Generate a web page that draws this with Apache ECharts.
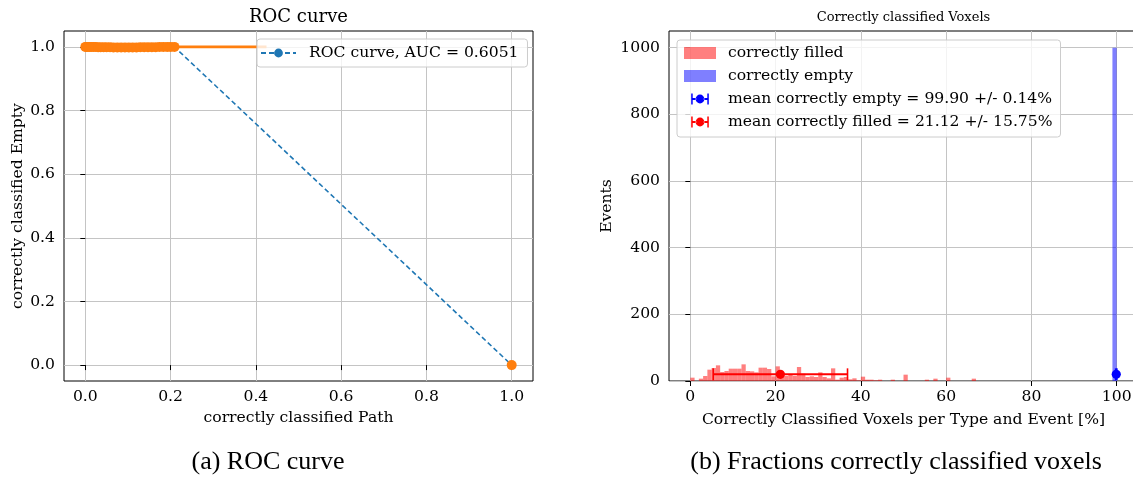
<!DOCTYPE html>
<html>
<head>
<meta charset="utf-8">
<script src="https://cdn.jsdelivr.net/npm/echarts@6/dist/echarts.min.js"></script>
<style>
  html, body { margin: 0; padding: 0; background: #ffffff; }
  #chart { width: 1133px; height: 477px; }
</style>
</head>
<body>
<div id="chart"></div>
<script>
// ---- ROC curve (left panel) ----
const rocFpr = [0.000, 0.003, 0.006, 0.010, 0.014, 0.019, 0.024, 0.030, 0.036, 0.043,
                0.050, 0.058, 0.066, 0.075, 0.084, 0.093, 0.102, 0.111, 0.120, 0.129,
                0.138, 0.147, 0.156, 0.165, 0.174, 0.183, 0.192, 0.200, 0.209, 1.000];
const rocTpr = [1.000, 1.000, 1.000, 1.000, 1.000, 1.000, 1.000, 0.999, 0.999, 0.999,
                0.999, 0.999, 0.998, 0.998, 0.998, 0.998, 0.998, 0.998, 0.998, 0.999,
                0.999, 0.999, 0.999, 0.999, 1.000, 1.000, 1.000, 1.000, 1.000, 0.000];
const flatFpr = [0.000, 0.425];
const flatTpr = [1.000, 1.000];
const rocLegend = 'ROC curve, AUC = 0.6051';
const rocTicks = [0.0, 0.2, 0.4, 0.6, 0.8, 1.0];

// ---- voxel fractions (right panel), events per 1 % bin ----
const filledCounts = [10, 0, 7, 15, 34, 39, 47, 27, 30, 37,
                      37, 37, 50, 30, 29, 26, 40, 40, 36, 14,
                      44, 22, 15, 20, 15, 42, 22, 12, 14, 12,
                      26, 12, 8, 38, 4, 10, 12, 5, 8, 2,
                      13, 4, 4, 2, 4, 0, 0, 4, 0, 0,
                      19, 0, 0, 0, 0, 4, 0, 7, 0, 0,
                      10, 0, 0, 0, 0, 0, 7];
const emptyBins = [99];
const emptyCounts = [1000];
const meanValues = [99.90, 21.12];
const meanErrors = [0.14, 15.75];
const meanLevel = 20;
const meanLabels = ['mean correctly empty = 99.90 +/- 0.14%', 'mean correctly filled = 21.12 +/- 15.75%'];
const voxelXTicks = [0, 20, 40, 60, 80, 100];
const voxelYTicks = [0, 200, 400, 600, 800, 1000];
const filledName = 'correctly filled';
const emptyName = 'correctly empty';

const SERIF = 'DejaVu Serif';
const FS = 15.6;
const gridColor = '#c4c4c4';

const filledData = filledCounts.map((c, i) => [i, i + 1, c]);
const emptyData = emptyBins.map((b, i) => [b, b + 1, emptyCounts[i]]);

function histItem(params, api) {
  const p0 = api.coord([api.value(0), api.value(2)]);
  const p1 = api.coord([api.value(1), 0]);
  return {
    type: 'rect',
    shape: { x: p0[0], y: p0[1], width: p1[0] - p0[0], height: p1[1] - p0[1] },
    style: { fill: api.visual('color') }
  };
}

function errorbarItem(params, api) {
  const m = api.value(0), e = api.value(1), y = api.value(2);
  const pl = api.coord([m - e, y]);
  const pr = api.coord([m + e, y]);
  const pc = api.coord([m, y]);
  const col = api.visual('color');
  const cap = 6;
  return {
    type: 'group',
    children: [
      { type: 'line', shape: { x1: pl[0], y1: pl[1], x2: pr[0], y2: pr[1] }, style: { stroke: col, lineWidth: 2 } },
      { type: 'line', shape: { x1: pl[0], y1: pl[1] - cap, x2: pl[0], y2: pl[1] + cap }, style: { stroke: col, lineWidth: 1.6 } },
      { type: 'line', shape: { x1: pr[0], y1: pr[1] - cap, x2: pr[0], y2: pr[1] + cap }, style: { stroke: col, lineWidth: 1.6 } },
      { type: 'circle', shape: { cx: pc[0], cy: pc[1], r: 4.6 }, style: { fill: col } }
    ]
  };
}

// legend glyph for the mean markers: bar with caps and a dot
const errIcon = 'path://M0 0M32 12' +
  'M8.5 5L12.2 5L12.2 7L8.5 7Z' +
  'M19.8 5L23.5 5L23.5 7L19.8 7Z' +
  'M7.2 0.5L8.7 0.5L8.7 11.5L7.2 11.5Z' +
  'M23.3 0.5L24.8 0.5L24.8 11.5L23.3 11.5Z' +
  'M11.6 6A4.4 4.4 0 1 0 20.4 6A4.4 4.4 0 1 0 11.6 6Z';

const axisLabelStyle = { fontFamily: SERIF, fontSize: FS, color: '#000' };
const nameStyle = { fontFamily: SERIF, fontSize: FS, color: '#000' };
const tickStyle = { show: true, length: 5, lineStyle: { color: '#000', width: 1 } };

const option = {
  animation: false,
  grid: [
    { left: 64, top: 31, width: 469, height: 350, show: true, borderColor: '#000', borderWidth: 1,
      backgroundColor: 'transparent', containLabel: false, outerBoundsMode: 'none' },
    { left: 669, top: 31, width: 469, height: 350, show: true, borderColor: '#000', borderWidth: 1,
      backgroundColor: 'transparent', containLabel: false, outerBoundsMode: 'none' }
  ],
  xAxis: [
    {
      type: 'value', gridIndex: 0, min: -0.05, max: 1.05,
      name: 'correctly classified Path', nameLocation: 'middle', nameGap: 29,
      nameTextStyle: nameStyle,
      axisLine: { show: false },
      axisTick: Object.assign({ customValues: rocTicks }, tickStyle),
      axisLabel: Object.assign({ customValues: rocTicks, margin: 8, formatter: v => v.toFixed(1) }, axisLabelStyle),
      splitLine: { show: true, lineStyle: { color: gridColor, width: 1 } }
    },
    {
      type: 'value', gridIndex: 1, min: -5, max: 105,
      name: 'Correctly Classified Voxels per Type and Event [%]', nameLocation: 'middle', nameGap: 31,
      nameTextStyle: nameStyle,
      axisLine: { show: false },
      axisTick: Object.assign({ customValues: voxelXTicks }, tickStyle),
      axisLabel: Object.assign({ customValues: voxelXTicks, margin: 8, formatter: v => String(v) }, axisLabelStyle),
      splitLine: { show: true, lineStyle: { color: gridColor, width: 1 } }
    }
  ],
  yAxis: [
    {
      type: 'value', gridIndex: 0, min: -0.05, max: 1.05,
      name: 'correctly classified Empty', nameLocation: 'middle', nameGap: 38,
      nameTextStyle: nameStyle,
      axisLine: { show: false },
      axisTick: Object.assign({ customValues: rocTicks }, tickStyle),
      axisLabel: Object.assign({ customValues: rocTicks, margin: 9, formatter: v => v.toFixed(1) }, axisLabelStyle),
      splitLine: { show: true, lineStyle: { color: gridColor, width: 1 } }
    },
    {
      type: 'value', gridIndex: 1, min: 0, max: 1050,
      name: 'Events', nameLocation: 'middle', nameGap: 54,
      nameTextStyle: nameStyle,
      axisLine: { show: false },
      axisTick: Object.assign({ customValues: voxelYTicks }, tickStyle),
      axisLabel: Object.assign({ customValues: voxelYTicks, margin: 9, formatter: v => String(v) }, axisLabelStyle),
      splitLine: { show: true, lineStyle: { color: gridColor, width: 1 } }
    }
  ],
  legend: [
    {
      data: [rocLegend],
      orient: 'vertical', left: 257, top: 39,
      itemWidth: 35, itemHeight: 11,
      padding: [5, 9, 5, 3],
      backgroundColor: 'rgba(255,255,255,0.8)',
      borderColor: '#cccccc', borderWidth: 1, borderRadius: 3,
      textStyle: { fontFamily: SERIF, fontSize: FS, color: '#000', lineHeight: 18, padding: [0, 0, 0, 8] },
      selectedMode: false
    },
    {
      data: [
        { name: filledName, icon: 'rect' },
        { name: emptyName, icon: 'rect' },
        { name: meanLabels[0], icon: errIcon },
        { name: meanLabels[1], icon: errIcon }
      ],
      orient: 'vertical', left: 677, top: 40,
      itemWidth: 32, itemHeight: 12, itemGap: 5,
      padding: [4, 8, 6, 7],
      backgroundColor: 'rgba(255,255,255,0.8)',
      borderColor: '#cccccc', borderWidth: 1, borderRadius: 3,
      textStyle: { fontFamily: SERIF, fontSize: FS, color: '#000', lineHeight: 18, padding: [0, 0, 0, 7] },
      selectedMode: false
    }
  ],
  graphic: [
    { type: 'text', x: 298.5, y: 17, style: { text: 'ROC curve', font: '18px "DejaVu Serif"', fill: '#000', align: 'center', verticalAlign: 'middle' } },
    { type: 'text', x: 903.5, y: 18, style: { text: 'Correctly classified Voxels', font: '13px "DejaVu Serif"', fill: '#000', align: 'center', verticalAlign: 'middle' } },
    { type: 'text', x: 268, y: 462, style: { text: '(a) ROC curve', font: '26px "Liberation Serif"', fill: '#000', align: 'center', verticalAlign: 'middle' } },
    { type: 'text', x: 896, y: 462, style: { text: '(b) Fractions correctly classified voxels', font: '26px "Liberation Serif"', fill: '#000', align: 'center', verticalAlign: 'middle' } }
  ],
  series: [
    {
      name: rocLegend, type: 'line', xAxisIndex: 0, yAxisIndex: 0,
      data: rocFpr.map((x, i) => [x, rocTpr[i]]),
      color: '#1f77b4',
      lineStyle: { color: '#1f77b4', width: 1.6, type: [5, 3] },
      symbol: 'circle', symbolSize: 8, showSymbol: true,
      itemStyle: { color: '#1f77b4' },
      z: 2
    },
    {
      name: 'flat', type: 'line', xAxisIndex: 0, yAxisIndex: 0,
      data: flatFpr.map((x, i) => [x, flatTpr[i]]),
      lineStyle: { color: '#ff7f0e', width: 2.6 },
      symbol: 'none', z: 3
    },
    {
      name: 'thresholds', type: 'scatter', xAxisIndex: 0, yAxisIndex: 0,
      data: rocFpr.map((x, i) => [x, rocTpr[i]]),
      symbol: 'circle', symbolSize: 10,
      itemStyle: { color: '#ff7f0e', opacity: 1 },
      z: 4
    },
    {
      name: filledName, type: 'custom', xAxisIndex: 1, yAxisIndex: 1,
      data: filledData, renderItem: histItem,
      itemStyle: { color: 'rgba(255,0,0,0.5)' },
      encode: { x: [0, 1], y: 2 }, z: 2
    },
    {
      name: emptyName, type: 'custom', xAxisIndex: 1, yAxisIndex: 1,
      data: emptyData, renderItem: histItem,
      itemStyle: { color: 'rgba(0,0,255,0.5)' },
      encode: { x: [0, 1], y: 2 }, z: 3
    },
    {
      name: meanLabels[0], type: 'custom', xAxisIndex: 1, yAxisIndex: 1,
      data: [[meanValues[0], meanErrors[0], meanLevel]], renderItem: errorbarItem,
      itemStyle: { color: '#0000ff' },
      encode: { x: 0, y: 2 }, z: 5
    },
    {
      name: meanLabels[1], type: 'custom', xAxisIndex: 1, yAxisIndex: 1,
      data: [[meanValues[1], meanErrors[1], meanLevel]], renderItem: errorbarItem,
      itemStyle: { color: '#ff0000' },
      encode: { x: 0, y: 2 }, z: 5
    }
  ]
};

const chart = echarts.init(document.getElementById('chart'), null, { renderer: 'canvas' });
chart.setOption(option);
</script>
</body>
</html>
